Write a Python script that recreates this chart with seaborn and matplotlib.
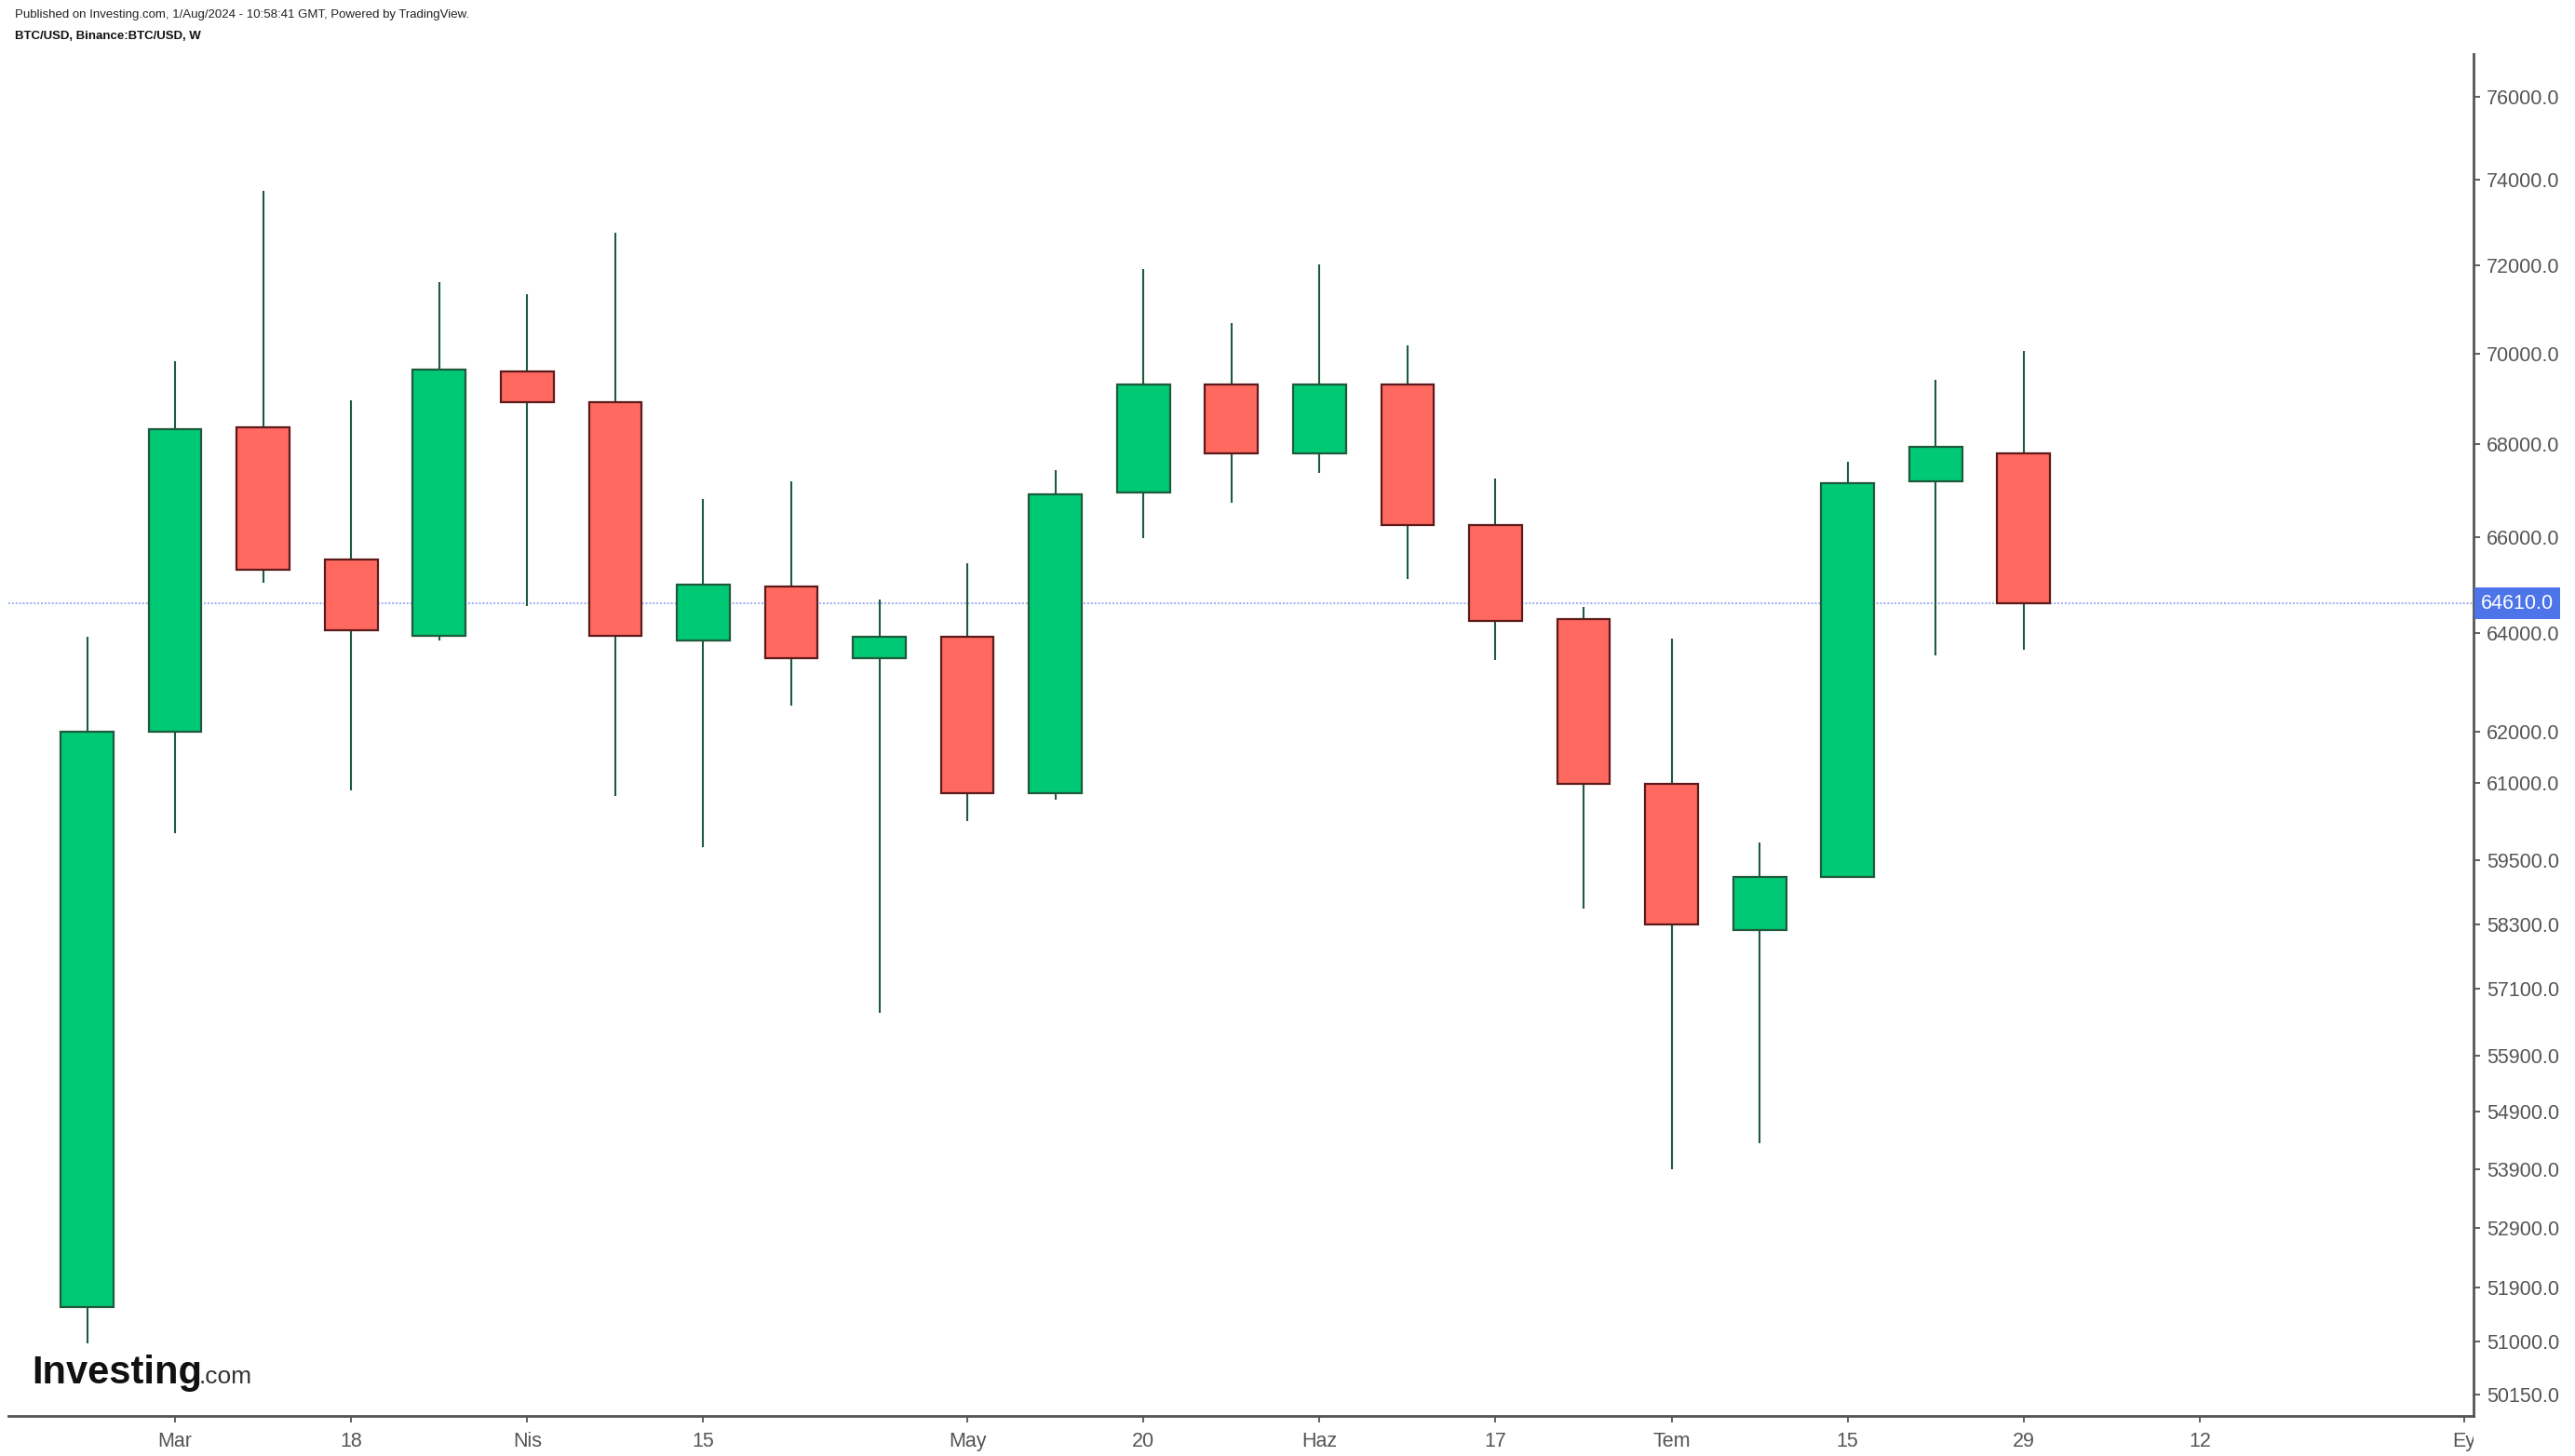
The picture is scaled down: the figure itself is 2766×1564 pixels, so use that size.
import matplotlib
matplotlib.use("Agg")
import matplotlib.pyplot as plt
import seaborn as sns
import numpy as np
from matplotlib import font_manager
from matplotlib.transforms import blended_transform_factory, Bbox, TransformedBbox
from matplotlib.ticker import FixedLocator, NullLocator, FixedFormatter

# ---------------- data ----------------
weeks = ["2024-02-26", "2024-03-04", "2024-03-11", "2024-03-18", "2024-03-25",
         "2024-04-01", "2024-04-08", "2024-04-15", "2024-04-22", "2024-04-29",
         "2024-05-06", "2024-05-13", "2024-05-20", "2024-05-27", "2024-06-03",
         "2024-06-10", "2024-06-17", "2024-06-24", "2024-07-01", "2024-07-08",
         "2024-07-15", "2024-07-22", "2024-07-29"]
opens = [51570, 62000, 68370, 65520, 63950, 69600, 68910, 63850, 64970, 63480,
         63920, 60800, 66960, 69310, 67800, 69310, 66250, 64290, 60990, 58200,
         59190, 67190, 67800]
highs = [63920, 69830, 73750, 68950, 71610, 71350, 72750, 66810, 67190, 64700,
         65450, 67440, 71910, 70680, 72030, 70190, 67260, 64530, 63880, 59850,
         67620, 69420, 70050]
lows = [50975, 60030, 65040, 60860, 63850, 64560, 60740, 59750, 62520, 56660,
        60260, 60670, 65970, 66740, 67370, 65110, 63450, 58600, 53900, 54350,
        59190, 63550, 63650]
closes = [62000, 68330, 65320, 64050, 69640, 68910, 63950, 65000, 63480, 63920,
          60800, 66910, 69310, 67800, 69310, 66250, 64250, 60990, 58290, 59190,
          67160, 67940, 64610]

last_price = 64610.0
y_ticks = [76000, 74000, 72000, 70000, 68000, 66000, 64000, 62000, 61000, 59500,
           58300, 57100, 55900, 54900, 53900, 52900, 51900, 51000, 50150]
x_tick_pos = [1, 3, 5, 7, 10, 12, 14, 16, 18, 20, 22, 24, 27]
x_tick_labels = ["Mar", "18", "Nis", "15", "May", "20", "Haz", "17", "Tem",
                 "15", "29", "12", "Ey"]

header1 = "Published on Investing.com, 1/Aug/2024 - 10:58:41 GMT, Powered by TradingView."
header2 = "BTC/USD, Binance:BTC/USD, W"

# ---------------- style ----------------
sns.set_theme(style="white")
avail = {f.name for f in font_manager.fontManager.ttflist}
base_font = ["Liberation Sans", "DejaVu Sans"]
narrow_font = (["Liberation Sans Narrow"] if "Liberation Sans Narrow" in avail else []) + base_font
plt.rcParams["font.family"] = base_font

UP = "#00c975"
DOWN = "#ff6960"
UP_EDGE = "#1e5a3c"
DOWN_EDGE = "#5c1a1a"
WICK = "#1e5a3c"
AXC = "#555555"

fig = plt.figure(figsize=(27.66, 15.64), dpi=100)
fig.patch.set_facecolor("white")
ax = fig.add_axes([9 / 2766, 1 - 1521 / 1564, (2657 - 9) / 2766, (1521 - 58) / 1564])
ax.set_facecolor("white")

x = np.arange(len(weeks))
o = np.array(opens, float)
c = np.array(closes, float)
h = np.array(highs, float)
l = np.array(lows, float)
up = c >= o

ax.set_yscale("log")
ax.vlines(x, l, h, color=WICK, linewidth=1.5, zorder=2)
ax.bar(x, np.abs(c - o), bottom=np.minimum(o, c), width=0.6,
       color=[UP if u else DOWN for u in up],
       edgecolor=[UP_EDGE if u else DOWN_EDGE for u in up],
       linewidth=1.6, zorder=3)

ax.axhline(last_price, color="#9aaef2", linewidth=1.4, linestyle=(0, (1, 1)), zorder=1)

ax.set_xlim(-0.894, 27.11)
ax.set_ylim(49800, 77050)

# axes styling
for s in ["left", "top"]:
    ax.spines[s].set_visible(False)
for s in ["right", "bottom"]:
    ax.spines[s].set_color(AXC)
    ax.spines[s].set_linewidth(2.0)

ax.yaxis.tick_right()
ax.yaxis.set_major_locator(FixedLocator(y_ticks))
ax.yaxis.set_minor_locator(NullLocator())
ax.yaxis.set_major_formatter(FixedFormatter([f"{v:.1f}" for v in y_ticks]))
ax.set_xticks(x_tick_pos)
ax.set_xticklabels(x_tick_labels)
ax.tick_params(axis="y", which="major", direction="out", length=5, width=1.3,
               color=AXC, labelcolor=AXC, labelsize=15.5, pad=5, right=True, left=False)
ax.tick_params(axis="x", which="major", direction="out", length=5, width=1.3,
               color=AXC, labelcolor=AXC, labelsize=15.5, pad=7, bottom=True)
ax.grid(False)

# clip the last (partially hidden) x label at the price axis
fig.canvas.draw()
clip = TransformedBbox(Bbox.from_extents(-0.05, -1.0, 1.0, 1.0), ax.transAxes)
lab = ax.get_xticklabels()[-1]
lab.set_clip_on(True)
lab.set_clip_box(clip)

# last price label
trans = blended_transform_factory(ax.transAxes, ax.transData)
ax.text(1.003, last_price, "64610.0", transform=trans, ha="left", va="center",
        color="white", fontsize=15.5, zorder=10, clip_on=False,
        bbox=dict(boxstyle="square,pad=0.3", fc="#4d74e8", ec="none"))

# header
fig.text(16 / 2766, 1 - 16 / 1564, header1, ha="left", va="center", fontsize=9.5,
         color="#222222", family=narrow_font)
fig.text(16 / 2766, 1 - 39 / 1564, header2, ha="left", va="center", fontsize=9.5,
         color="#111111", fontweight="bold", family=narrow_font)

# logo
fig.text(34 / 2766, 1 - 1486 / 1564, "Investing", ha="left", va="baseline",
         fontsize=30, fontweight="bold", color="#111111")
fig.text(214 / 2766, 1 - 1486 / 1564, ".com", ha="left", va="baseline",
         fontsize=19, color="#333333")

fig.savefig("out.png", dpi=100, facecolor="white")
